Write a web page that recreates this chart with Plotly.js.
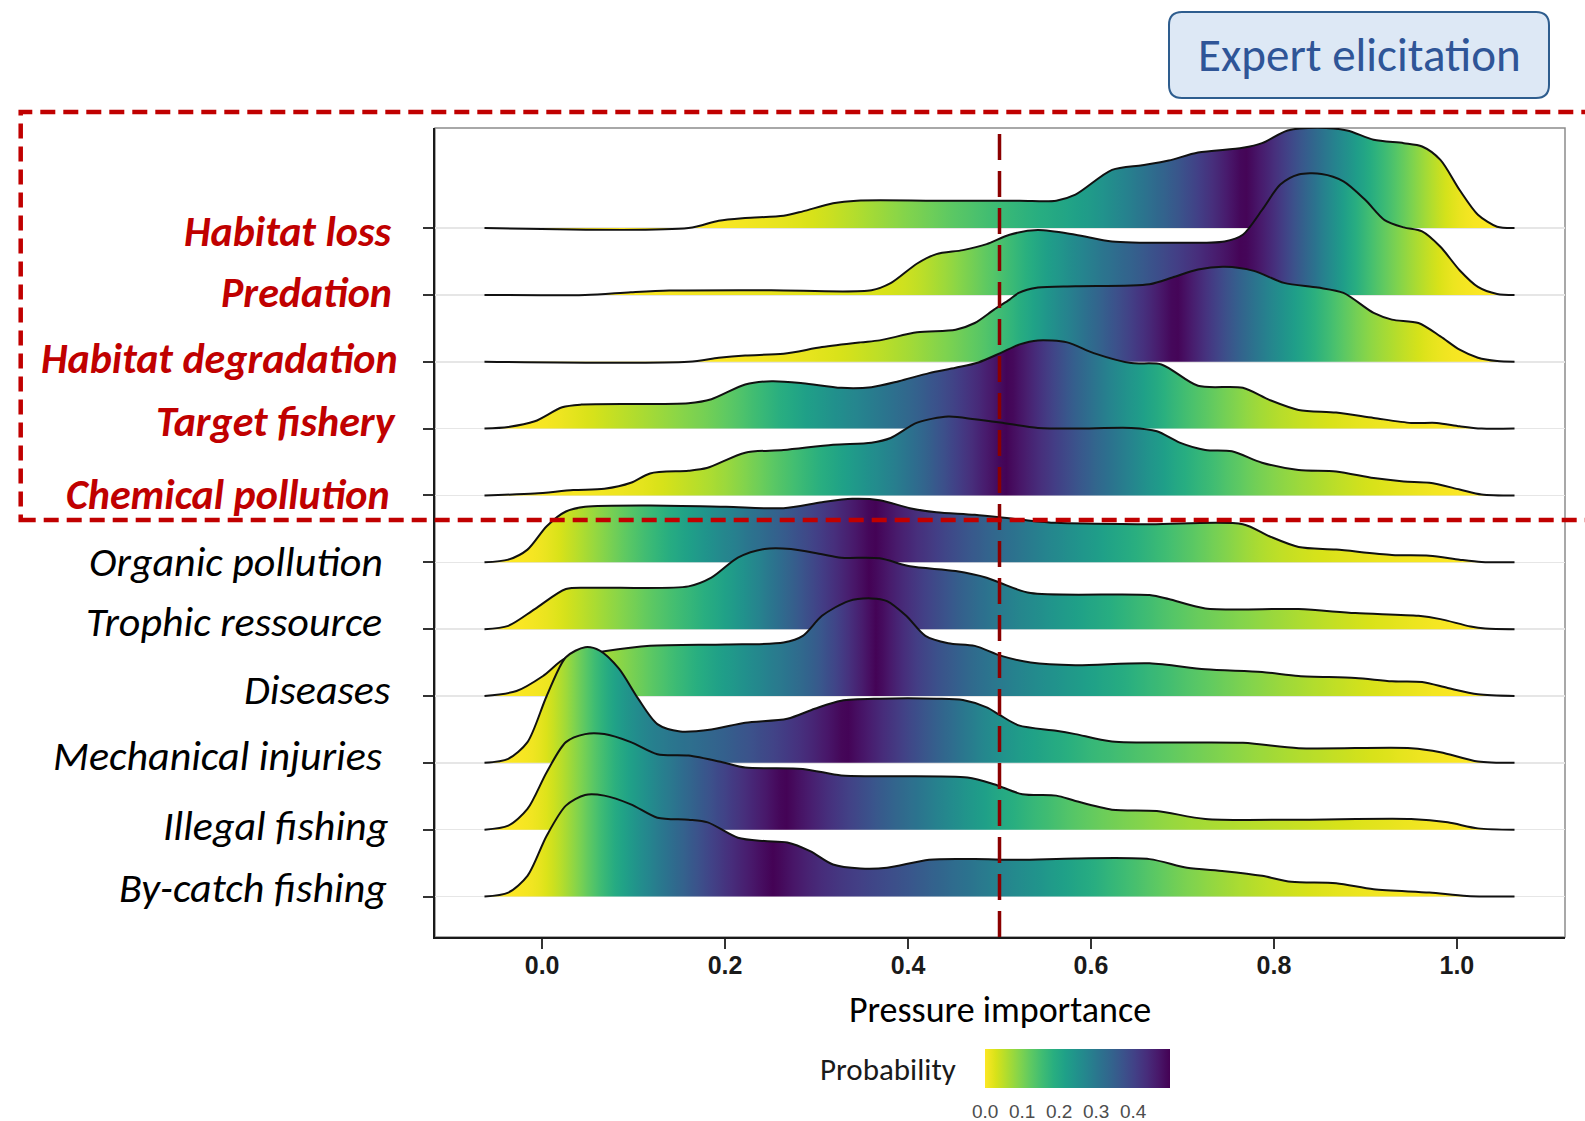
<!DOCTYPE html>
<html><head><meta charset="utf-8">
<script src="https://cdn.plot.ly/plotly-3.0.1.min.js"></script>
<style>html,body{margin:0;padding:0;background:#fff}#chart{width:1585px;height:1121px}</style>
</head><body><div id="chart"></div>
<script>
// ---------------- DATA ----------------
const categories = ['By-catch fishing','Illegal fishing','Mechanical injuries','Diseases','Trophic ressource',
  'Organic pollution','Chemical pollution','Target fishery','Habitat degradation','Predation','Habitat loss'];
const highlighted = ['Habitat loss','Predation','Habitat degradation','Target fishery','Chemical pollution'];
const xTickVals = [0, 0.2, 0.4, 0.6, 0.8, 1.0];
const xTickText = ['0.0','0.2','0.4','0.6','0.8','1.0'];
const probTickVals = [0, 0.1, 0.2, 0.3, 0.4];
const probTickText = ['0.0','0.1','0.2','0.3','0.4'];
const threshold = 0.5;

// density outlines (x = pressure importance, h = ridge height in row units)
const habitatLossX = [-0.063,0.16,0.193,0.222,0.264,0.285,0.318,0.344,0.43,0.522,0.562,0.583,0.623,0.656,0.685,0.717,0.766,0.787,0.815,0.848,0.88,0.909,0.942,0.962,0.982,1.003,1.023,1.044,1.063];
const habitatLossH = [0,0,0.11,0.15,0.185,0.25,0.37,0.41,0.41,0.41,0.41,0.5,0.87,0.94,1.01,1.13,1.2,1.27,1.46,1.5,1.46,1.32,1.27,1.22,1.02,0.57,0.2,0.02,0];

const predationX = [-0.063,0.047,0.097,0.139,0.25,0.36,0.381,0.41,0.431,0.46,0.486,0.511,0.542,0.583,0.623,0.685,0.746,0.766,0.787,0.807,0.827,0.852,0.876,0.9,0.921,0.942,0.962,0.982,1.003,1.023,1.044,1.063];
const predationH = [0,0,0.04,0.065,0.07,0.07,0.175,0.47,0.61,0.67,0.76,0.9,0.97,0.9,0.8,0.78,0.8,0.9,1.27,1.65,1.8,1.81,1.7,1.42,1.12,1.01,0.95,0.72,0.37,0.12,0.015,0];

const habitatDegradationX = [-0.063,0.16,0.193,0.222,0.264,0.306,0.348,0.369,0.41,0.452,0.473,0.494,0.511,0.521,0.542,0.583,0.664,0.689,0.717,0.746,0.778,0.811,0.848,0.876,0.909,0.929,0.958,0.982,1.003,1.023,1.044,1.063];
const habitatDegradationH = [0,0,0.06,0.095,0.12,0.22,0.29,0.32,0.44,0.48,0.58,0.78,0.93,1.03,1.11,1.13,1.16,1.26,1.38,1.42,1.36,1.18,1.11,1.03,0.73,0.63,0.58,0.38,0.18,0.06,0.01,0];

const targetFisheryX = [-0.063,-0.037,-0.008,0.022,0.043,0.16,0.185,0.222,0.251,0.285,0.327,0.36,0.39,0.423,0.452,0.477,0.501,0.522,0.542,0.574,0.603,0.644,0.677,0.717,0.766,0.795,0.827,0.868,0.909,0.95,0.978,1.003,1.027,1.063];
const targetFisheryH = [0,0.025,0.11,0.32,0.36,0.38,0.44,0.66,0.71,0.68,0.61,0.62,0.71,0.83,0.91,0.99,1.13,1.26,1.32,1.29,1.13,0.98,0.96,0.64,0.61,0.43,0.28,0.24,0.16,0.085,0.085,0.035,0,0];

const chemicalPollutionX = [-0.063,-0.008,0.034,0.068,0.097,0.118,0.16,0.18,0.222,0.264,0.318,0.36,0.381,0.41,0.444,0.473,0.501,0.542,0.583,0.644,0.672,0.697,0.725,0.754,0.787,0.827,0.868,0.909,0.942,0.97,1.003,1.027,1.063];
const chemicalPollutionH = [0,0.03,0.08,0.1,0.19,0.33,0.37,0.41,0.64,0.68,0.76,0.79,0.86,1.09,1.18,1.14,1.09,1.01,1.0,1.01,0.96,0.79,0.68,0.66,0.49,0.38,0.36,0.26,0.21,0.19,0.09,0.015,0];

const organicPollutionX = [-0.063,-0.037,-0.016,0.005,0.026,0.047,0.118,0.201,0.264,0.306,0.339,0.369,0.402,0.431,0.473,0.522,0.562,0.664,0.766,0.795,0.827,0.868,0.929,0.97,1.003,1.027,1.063];
const organicPollutionH = [0,0.04,0.19,0.54,0.76,0.83,0.85,0.83,0.81,0.9,0.95,0.93,0.81,0.75,0.71,0.64,0.59,0.57,0.57,0.39,0.23,0.19,0.11,0.1,0.04,0.005,0];

const trophicRessourceX = [-0.063,-0.037,-0.008,0.026,0.055,0.16,0.185,0.214,0.243,0.272,0.306,0.327,0.369,0.402,0.452,0.486,0.501,0.534,0.664,0.685,0.725,0.827,0.889,0.958,0.982,1.015,1.031,1.063];
const trophicRessourceH = [0,0.05,0.3,0.6,0.62,0.64,0.77,1.07,1.2,1.2,1.12,1.07,1.06,0.94,0.87,0.77,0.69,0.54,0.51,0.45,0.31,0.3,0.24,0.2,0.15,0.04,0.01,0];

const diseasesX = [-0.063,-0.028,0.001,0.026,0.068,0.118,0.201,0.264,0.285,0.306,0.335,0.36,0.377,0.398,0.419,0.444,0.473,0.502,0.534,0.583,0.664,0.725,0.787,0.827,0.889,0.929,0.962,0.99,1.023,1.063];
const diseasesH = [0,0.075,0.3,0.57,0.67,0.75,0.77,0.8,0.9,1.2,1.42,1.46,1.42,1.2,0.9,0.79,0.75,0.6,0.5,0.46,0.49,0.4,0.36,0.3,0.27,0.22,0.21,0.12,0.025,0];

const mechanicalInjuriesX = [-0.063,-0.037,-0.016,0.005,0.026,0.047,0.063,0.084,0.105,0.126,0.151,0.185,0.222,0.268,0.298,0.327,0.369,0.431,0.46,0.486,0.501,0.521,0.562,0.583,0.623,0.766,0.827,0.95,0.982,1.023,1.063];
const mechanicalInjuriesH = [0,0.06,0.31,1.0,1.58,1.73,1.68,1.41,0.96,0.58,0.47,0.5,0.6,0.66,0.81,0.93,0.96,0.96,0.94,0.83,0.71,0.56,0.48,0.43,0.32,0.3,0.22,0.22,0.16,0.02,0];

const illegalFishingX = [-0.063,-0.037,-0.016,0.005,0.026,0.047,0.068,0.097,0.126,0.16,0.197,0.222,0.285,0.327,0.369,0.465,0.494,0.525,0.562,0.583,0.623,0.672,0.725,0.827,0.95,0.99,1.023,1.063];
const illegalFishingH = [0,0.06,0.31,0.86,1.31,1.43,1.43,1.31,1.13,1.11,1.01,0.93,0.91,0.81,0.8,0.78,0.68,0.53,0.51,0.43,0.3,0.28,0.16,0.15,0.16,0.11,0.02,0];

const byCatchFishingX = [-0.063,-0.037,-0.016,0.005,0.026,0.047,0.068,0.097,0.126,0.16,0.181,0.214,0.243,0.268,0.293,0.318,0.348,0.377,0.423,0.473,0.522,0.583,0.664,0.705,0.746,0.787,0.819,0.868,0.909,0.97,1.011,1.063];
const byCatchFishingH = [0,0.06,0.31,0.91,1.36,1.52,1.51,1.38,1.18,1.15,1.11,0.88,0.83,0.81,0.68,0.48,0.42,0.43,0.55,0.56,0.55,0.57,0.56,0.43,0.38,0.31,0.22,0.2,0.11,0.06,0.01,0];

// ---------------- BUILD ----------------
const ridges = [
  ['Habitat loss', habitatLossX, habitatLossH],
  ['Predation', predationX, predationH],
  ['Habitat degradation', habitatDegradationX, habitatDegradationH],
  ['Target fishery', targetFisheryX, targetFisheryH],
  ['Chemical pollution', chemicalPollutionX, chemicalPollutionH],
  ['Organic pollution', organicPollutionX, organicPollutionH],
  ['Trophic ressource', trophicRessourceX, trophicRessourceH],
  ['Diseases', diseasesX, diseasesH],
  ['Mechanical injuries', mechanicalInjuriesX, mechanicalInjuriesH],
  ['Illegal fishing', illegalFishingX, illegalFishingH],
  ['By-catch fishing', byCatchFishingX, byCatchFishingH]
];

const VIRIDIS = ['#440154','#48186a','#472d7b','#424086','#3b528b','#33638d','#2c728e','#26828e','#21918c','#1fa088','#28ae80','#3fbc73','#5ec962','#84d44b','#addc30','#d8e219','#fde725'];
function hex2rgb(h){return [parseInt(h.slice(1,3),16),parseInt(h.slice(3,5),16),parseInt(h.slice(5,7),16)];}
function viridisAt(t){
  t = Math.max(0, Math.min(1, t));
  const n = VIRIDIS.length - 1, f = t*n, i = Math.min(Math.floor(f), n-1), u = f - i;
  const a = hex2rgb(VIRIDIS[i]), b = hex2rgb(VIRIDIS[i+1]);
  return 'rgb(' + a.map((v,k)=>Math.round(v + (b[k]-v)*u)).join(',') + ')';
}
function interp(xs, hs, x){
  if (x <= xs[0]) return hs[0];
  for (let i=1;i<xs.length;i++){ if (x <= xs[i]) { const u=(x-xs[i-1])/(xs[i]-xs[i-1]); return hs[i-1]+(hs[i]-hs[i-1])*u; } }
  return hs[hs.length-1];
}
// tail probability (0.5 - |0.5 - ECDF|) along x, as a horizontal colour gradient
function tailGradient(xs, hs){
  const x0 = xs[0], x1 = xs[xs.length-1], n = 150;
  const grid = [], dens = [];
  for (let i=0;i<=n;i++){ const x = x0 + (x1-x0)*i/n; grid.push(x); dens.push(interp(xs,hs,x)); }
  const cum = [0];
  for (let i=1;i<=n;i++) cum.push(cum[i-1] + (dens[i]+dens[i-1])/2*(grid[i]-grid[i-1]));
  const tot = cum[n];
  return grid.map((x,i)=>{ const F = cum[i]/tot; const p = 0.5 - Math.abs(0.5 - F); return [i/n, viridisAt(1 - p/0.5)]; });
}

const traces = [];
ridges.forEach(([name, xs, hs]) => {
  const base = categories.indexOf(name) + 1;
  const x0 = xs[0], x1 = xs[xs.length-1];
  traces.push({type:'scatter', mode:'lines', x:[x0,x1], y:[base,base], line:{width:0,color:'rgba(0,0,0,0)'},
    hoverinfo:'skip', showlegend:false});
  traces.push({type:'scatter', mode:'lines', x:xs, y:hs.map(h=>base+h), name:name,
    line:{color:'#111111', width:2, shape:'spline', smoothing:0.8},
    fill:'tonexty', fillcolor:'#21918c',
    fillgradient:{type:'horizontal', start:x0, stop:x1, colorscale:tailGradient(xs,hs)},
    hoverinfo:'skip', showlegend:false});
});

// ---------------- LAYOUT ----------------
const W=1585, H=1121, ML=435, MR=20, MT=128, MB=184;
const PW = W-ML-MR, PH = H-MT-MB;
const px = v => (v-ML)/PW;
const py = v => (H-MB-v)/PH;

// colour bar carrier
traces.push({type:'scatter', mode:'markers', x:[-5], y:[-5], hoverinfo:'skip', showlegend:false,
  marker:{color:[0], cmin:0, cmax:0.5, colorscale:'Viridis', reversescale:true, showscale:true, size:1,
    colorbar:{orientation:'h', x:px(1077.6), xanchor:'center', y:py(1049), yanchor:'top',
      len:185, lenmode:'pixels', thickness:39, thicknessmode:'pixels', xpad:0, ypad:0, outlinewidth:0,
      tickvals:probTickVals, ticktext:probTickText, ticks:'outside', ticklen:8, tickwidth:1, tickcolor:'rgba(0,0,0,0)',
      tickfont:{family:'Liberation Sans, Arial, sans-serif', size:19, color:'#4d4d4d'}, title:{text:''}}}});

const LABEL_FONT = 'Carlito, Lato, sans-serif';
const labelPos = {
  'Habitat loss':[392.7,231.5], 'Predation':[394,292.5], 'Habitat degradation':[400,358.5],
  'Target fishery':[398,421], 'Chemical pollution':[392,494], 'Organic pollution':[385,561.5],
  'Trophic ressource':[384,621], 'Diseases':[391.7,689.5], 'Mechanical injuries':[384,755],
  'Illegal fishing':[390.7,825.5], 'By-catch fishing':[389,887.5]
};
const annotations = categories.map(c => {
  const hi = highlighted.includes(c);
  return {xref:'paper', yref:'paper', x:px(labelPos[c][0]), y:py(labelPos[c][1]), xanchor:'right', yanchor:'middle',
    text:c, showarrow:false,
    font:{family:LABEL_FONT, size:42, style:'italic', weight: hi?700:400, color: hi?'#c00000':'#000000'}};
});
annotations.push({xref:'paper', yref:'paper', x:px(1359), y:py(55), xanchor:'center', yanchor:'middle',
  text:'Expert elicitation', showarrow:false, font:{family:LABEL_FONT, size:47, color:'#2f5597'}});
annotations.push({xref:'paper', yref:'paper', x:px(958), y:py(1069), xanchor:'right', yanchor:'middle',
  text:'Probability', showarrow:false, font:{family:LABEL_FONT, size:31, color:'#1a1a1a'}});

// rounded box
const bx0=1169, bx1=1549, by0=12, by1=98, r=13;
const P = (a,b)=> px(a).toFixed(5)+','+py(b).toFixed(5);
const boxPath = 'M'+P(bx0+r,by0)+' L'+P(bx1-r,by0)+' Q'+P(bx1,by0)+' '+P(bx1,by0+r)+
  ' L'+P(bx1,by1-r)+' Q'+P(bx1,by1)+' '+P(bx1-r,by1)+' L'+P(bx0+r,by1)+' Q'+P(bx0,by1)+' '+P(bx0,by1-r)+
  ' L'+P(bx0,by0+r)+' Q'+P(bx0,by0)+' '+P(bx0+r,by0)+' Z';

const shapes = [
  {type:'rect', xref:'paper', yref:'paper', x0:0, x1:1, y0:0, y1:1, line:{color:'#8c8c8c', width:1.5}, layer:'below'},
  {type:'line', xref:'x', yref:'paper', x0:threshold, x1:threshold, y0:0, y1:1,
    line:{color:'#8b0000', width:3.5, dash:'26px,11px'}, layer:'above'},
  {type:'rect', xref:'paper', yref:'paper', x0:px(20.7), x1:px(1605), y0:py(520), y1:py(112),
    line:{color:'#c00000', width:4.5, dash:'15px,8px'}, layer:'above'},
  {type:'path', xref:'paper', yref:'paper', path:boxPath, fillcolor:'#dde8f5', line:{color:'#2e5d8e', width:2}, layer:'above'}
];

const layout = {
  width:W, height:H, margin:{l:ML, r:MR, t:MT, b:MB, autoexpand:false}, paper_bgcolor:'#ffffff', plot_bgcolor:'#ffffff',
  showlegend:false,
  xaxis:{range:[-0.1171,1.1182], tickvals:xTickVals, ticktext:xTickText, ticks:'outside', ticklen:10, tickwidth:2,
    tickcolor:'#333333', ticklabelstandoff:-5, automargin:false,
    tickfont:{family:'Liberation Sans, Arial, sans-serif', size:25, weight:700, color:'#1a1a1a'},
    showline:true, linecolor:'#1a1a1a', linewidth:2, showgrid:false, zeroline:false,
    title:{text:'Pressure importance', font:{family:LABEL_FONT, size:36, color:'#000000'}, standoff:19}},
  yaxis:{range:[0.395,12.497], tickvals:categories.map((c,i)=>i+1), ticks:'outside', ticklen:10, tickwidth:2,
    tickcolor:'#333333', showticklabels:false, showgrid:true, gridcolor:'#e6e6e6', gridwidth:1.5, automargin:false,
    showline:true, linecolor:'#1a1a1a', linewidth:2, zeroline:false},
  shapes:shapes, annotations:annotations
};

Plotly.newPlot('chart', traces, layout, {staticPlot:true, displayModeBar:false});
</script></body></html>
